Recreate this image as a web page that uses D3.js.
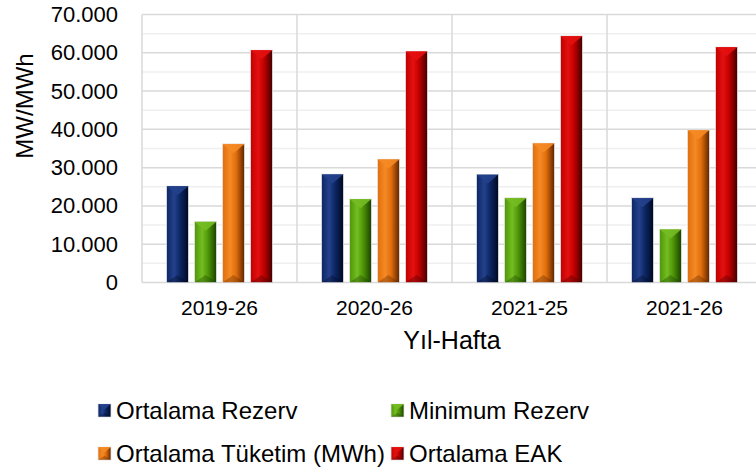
<!DOCTYPE html>
<html>
<head>
<meta charset="utf-8">
<script src="https://cdn.jsdelivr.net/npm/d3@7"></script>
<style>
  body { margin: 0; background: #fff; }
  svg { display: block; font-family: "Liberation Sans", Arial, sans-serif; }
</style>
</head>
<body>
<div class="chart"></div>
<script>
// DATA ***********************************************************************
const categories = ['2019-26', '2020-26', '2021-25', '2021-26'];
const seriesNames = ['Ortalama Rezerv', 'Minimum Rezerv', 'Ortalama Tüketim (MWh)', 'Ortalama EAK'];
const ortalamaRezerv = [25200, 28300, 28200, 22100];
const minimumRezerv = [15900, 21800, 22100, 13900];
const ortalamaTuketim = [36200, 32200, 36400, 39800];
const ortalamaEAK = [60700, 60400, 64400, 61500];
const yTicks = [0, 10000, 20000, 30000, 40000, 50000, 60000, 70000];

const seriesValues = [ortalamaRezerv, minimumRezerv, ortalamaTuketim, ortalamaEAK];
// colours: light, base, dark
const palette = [
  ['#24418c', '#0c2663', '#000820'],
  ['#74bd22', '#4e9608', '#1a4000'],
  ['#f58a25', '#e06e0c', '#5e2400'],
  ['#e41010', '#c00000', '#400000']
];

// LAYOUT *********************************************************************
const width = 756, height = 473;
const plotLeft = 142, plotRight = 762, plotTop = 14.5, plotBottom = 282.5;

const svg = d3.select('.chart').append('svg')
  .attr('width', width)
  .attr('height', height);

const defs = svg.append('defs');
palette.forEach((c, i) => {
  const g = defs.append('linearGradient').attr('id', 'grad' + i)
    .attr('x1', '0%').attr('x2', '100%').attr('y1', '0%').attr('y2', '0%');
  g.append('stop').attr('offset', '0%').attr('stop-color', c[1]);
  g.append('stop').attr('offset', '35%').attr('stop-color', c[0]);
  g.append('stop').attr('offset', '62%').attr('stop-color', c[1]);
  g.append('stop').attr('offset', '100%').attr('stop-color', c[2]);
});

const fmt = d3.formatLocale({ decimal: ',', thousands: '.', grouping: [3], currency: ['', ''] }).format(',');

// SCALES *********************************************************************
const x = d3.scaleBand().domain(categories).range([plotLeft, plotRight]);
const xInner = d3.scaleBand().domain(seriesNames).range([24.5, 130.5]).paddingInner(0.2142);
const y = d3.scaleLinear().domain([0, 70000]).range([plotBottom, plotTop]);

// GRID ***********************************************************************
const minor = d3.range(5000, 70000, 10000);
svg.append('g').selectAll('line').data(minor).enter().append('line')
  .attr('x1', plotLeft).attr('x2', plotRight)
  .attr('y1', d => y(d)).attr('y2', d => y(d))
  .attr('stroke', '#efefef').attr('stroke-width', 1.5);
svg.append('g').selectAll('line').data(yTicks).enter().append('line')
  .attr('x1', plotLeft).attr('x2', plotRight)
  .attr('y1', d => y(d)).attr('y2', d => y(d))
  .attr('stroke', '#d9d9d9').attr('stroke-width', 1.5);
svg.append('g').selectAll('line').data(categories).enter().append('line')
  .attr('x1', d => x(d)).attr('x2', d => x(d))
  .attr('y1', plotTop).attr('y2', plotBottom)
  .attr('stroke', '#d9d9d9').attr('stroke-width', 1.5);

// Y AXIS labels
const yAxis = d3.axisLeft(y).tickValues(yTicks).tickFormat(fmt).tickSize(0).tickPadding(24);
const ya = svg.append('g').attr('transform', `translate(${plotLeft},0)`).call(yAxis);
ya.select('.domain').remove();
ya.selectAll('text').attr('font-size', 22).attr('fill', '#000').attr('font-family', '"Liberation Sans", Arial, sans-serif');

// X AXIS labels
const xAxis = d3.axisBottom(x).tickSize(0).tickPadding(18);
const xa = svg.append('g').attr('transform', `translate(0,${plotBottom})`).call(xAxis);
xa.select('.domain').remove();
xa.selectAll('text').attr('font-size', 21).attr('fill', '#000').attr('font-family', '"Liberation Sans", Arial, sans-serif');

// BARS ***********************************************************************
function drawBar(g, bx, by, bw, bh, i) {
  const c = palette[i];
  g.append('rect').attr('x', bx).attr('y', by).attr('width', bw).attr('height', bh)
    .attr('fill', `url(#grad${i})`).attr('stroke', '#e4e4e4').attr('stroke-width', 0.8);
  const cap = Math.min(bw * 0.42, bh / 2);
  g.append('path')
    .attr('d', `M${bx},${by}L${bx + bw},${by}L${bx + bw / 2},${by + cap}Z`)
    .attr('fill', c[0]).attr('opacity', 0.9);
  g.append('path')
    .attr('d', `M${bx},${by + bh}L${bx + bw},${by + bh}L${bx + bw / 2},${by + bh - cap * 0.8}Z`)
    .attr('fill', c[2]).attr('opacity', 0.35);
}

const bars = svg.append('g');
seriesValues.forEach((vals, i) => {
  vals.forEach((v, j) => {
    const bx = x(categories[j]) + xInner(seriesNames[i]);
    drawBar(bars, bx, y(v), xInner.bandwidth(), y(0) - y(v), i);
  });
});

// TITLES *********************************************************************
svg.append('text').attr('x', (plotLeft + plotRight) / 2).attr('y', 349)
  .attr('text-anchor', 'middle').attr('font-size', 25).text('Yıl-Hafta');
svg.append('text').attr('transform', 'translate(33,106) rotate(-90)')
  .attr('text-anchor', 'middle').attr('font-size', 24).text('MW/MWh');

// LEGEND *********************************************************************
const legendPos = [[98, 411], [391, 411], [98, 454], [391, 454]];
seriesNames.forEach((name, i) => {
  const [lx, ly] = legendPos[i];
  const g = svg.append('g');
  drawBar(g, lx, ly - 7, 13, 13, i);
  g.append('text').attr('x', lx + 18).attr('y', ly + 8)
    .attr('font-size', 24).text(name);
});
</script>
</body>
</html>
